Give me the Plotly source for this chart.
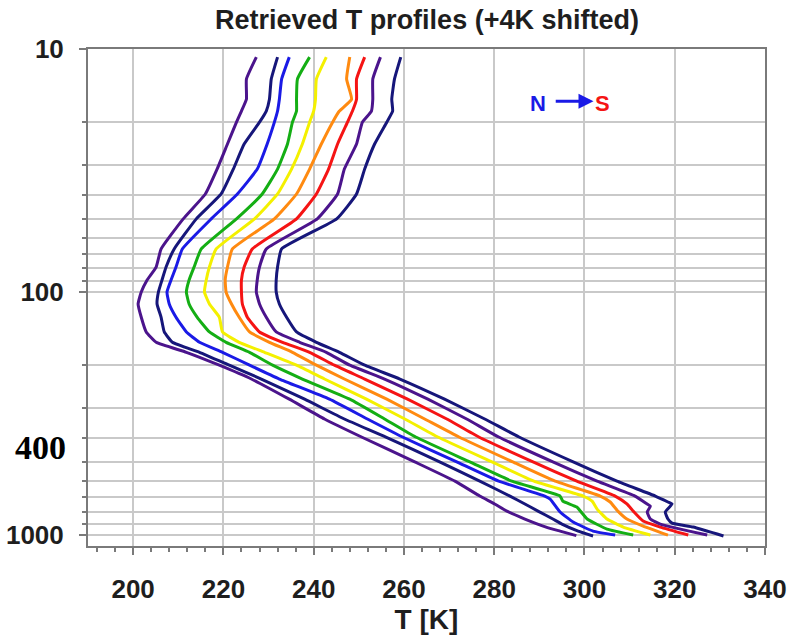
import plotly.graph_objects as go

# ---------------- data ----------------
# common pressure levels (hPa) for the upper part of every profile
P_UPPER = [10.8, 13.3, 16.1, 18, 20, 24.6, 31.2, 39.5, 50, 66.5, 78.9, 89.2, 100,
           112, 127, 146, 161, 177, 200, 228, 276, 333, 395, 500, 600, 691]

# profile 1 (northernmost, purple)
T1 = [227.3, 225.1, 225.1, 224.0, 222.9, 220.9, 218.6, 216.0, 211.1, 206.2, 205.1, 203.1, 201.8,
      201.1, 201.8, 202.9, 205.1, 211.8, 219.1, 226.2, 234.6, 242.4, 250.6, 262.4, 271.3, 276.8]
P1_LOW = [745, 797, 859, 927, 963, 1005]
T1_LOW = [280.1, 282.8, 286.8, 291.5, 294.6, 298.2]

# profile 2 (navy)
T2 = [232.0, 230.6, 230.2, 229.5, 228.0, 224.6, 222.2, 219.5, 214.0, 209.1, 207.3, 206.4, 205.6,
      205.3, 206.2, 206.9, 208.7, 214.7, 221.3, 228.4, 238.0, 246.8, 256.0, 267.9, 276.8, 283.5]
P2_LOW = [745, 797, 859, 901, 963, 1009]
T2_LOW = [286.8, 289.7, 293.0, 295.0, 298.6, 301.9]

# profile 3 (blue)
T3 = [234.6, 232.9, 232.4, 232.0, 231.3, 229.7, 227.5, 223.1, 217.3, 210.9, 209.5, 208.4, 207.5,
      208.0, 209.5, 211.8, 214.7, 219.8, 225.8, 232.4, 243.5, 251.9, 259.7, 271.7, 281.0, 291.2]
P3_LOW = [711, 804, 884, 963, 1000]
T3_LOW = [292.4, 294.6, 297.5, 301.9, 306.8]

# profile 4 (green)
T4 = [239.1, 236.4, 236.2, 236.2, 235.3, 234.2, 232.0, 228.6, 222.9, 215.1, 213.5, 212.4, 211.8,
      212.4, 214.2, 216.9, 220.6, 225.8, 230.9, 237.5, 248.0, 255.7, 262.6, 274.6, 283.9, 294.6]
P4_LOW = [725, 767, 859, 945, 1000]
T4_LOW = [295.2, 298.3, 300.6, 305.0, 310.8]

# profile 5 (yellow)
T5 = [242.8, 240.6, 240.4, 240.0, 239.1, 237.5, 235.1, 232.0, 226.9, 218.4, 216.9, 216.2, 215.8,
      216.9, 219.1, 219.8, 223.5, 229.1, 236.2, 242.4, 251.7, 260.2, 267.5, 279.5, 288.8, 299.7]
P5_LOW = [725, 782, 859, 927, 1000]
T5_LOW = [301.7, 302.8, 305.0, 308.6, 314.6]

# profile 6 (orange)
T6 = [248.0, 247.3, 248.4, 245.7, 244.2, 241.7, 239.1, 236.2, 231.3, 222.0, 220.9, 220.4, 220.6,
      221.8, 223.5, 225.8, 230.2, 235.3, 240.6, 246.8, 256.2, 264.6, 272.2, 284.1, 293.5, 303.5]
P6_LOW = [731, 797, 859, 918, 1000]
T6_LOW = [305.7, 307.4, 309.4, 313.0, 318.5]

# profile 7 (red)
T7 = [251.3, 249.5, 249.5, 248.6, 247.5, 245.3, 243.3, 240.6, 236.2, 226.4, 224.6, 224.0, 224.0,
      224.2, 225.3, 228.0, 233.1, 239.1, 244.6, 251.3, 260.8, 269.5, 276.6, 288.6, 298.3, 306.8]
P7_LOW = [745, 797, 876, 927, 1000]
T7_LOW = [309.4, 310.8, 313.0, 316.8, 323.0]

# profile 8 (purple)
T8 = [254.8, 253.1, 253.1, 252.8, 250.8, 249.5, 246.8, 245.3, 240.8, 229.5, 228.0, 227.5, 227.3,
      228.0, 229.5, 231.7, 236.9, 242.8, 248.0, 255.7, 265.3, 273.9, 281.0, 293.0, 302.8, 311.2]
P8_LOW = [745, 760, 804, 859, 901, 1000]
T8_LOW = [313.9, 314.6, 313.9, 314.6, 316.8, 327.2]

# profile 9 (southernmost, navy)
T9 = [259.3, 257.9, 257.3, 257.5, 256.2, 253.5, 251.3, 249.5, 245.1, 232.9, 232.0, 231.7, 231.7,
      232.4, 234.0, 236.2, 240.6, 245.7, 251.3, 259.1, 269.0, 277.9, 285.5, 297.5, 307.2, 315.7]
P9_LOW = [731, 745, 804, 859, 893, 927, 1009]
T9_LOW = [318.5, 319.4, 317.9, 318.5, 319.4, 324.1, 330.8]

PROFILES = [
    ("Profile 1", T1, P1_LOW, T1_LOW, "#4b148c"),
    ("Profile 2", T2, P2_LOW, T2_LOW, "#16167a"),
    ("Profile 3", T3, P3_LOW, T3_LOW, "#1a1ae6"),
    ("Profile 4", T4, P4_LOW, T4_LOW, "#14ae14"),
    ("Profile 5", T5, P5_LOW, T5_LOW, "#f4f000"),
    ("Profile 6", T6, P6_LOW, T6_LOW, "#ff8a10"),
    ("Profile 7", T7, P7_LOW, T7_LOW, "#f51414"),
    ("Profile 8", T8, P8_LOW, T8_LOW, "#4b148c"),
    ("Profile 9", T9, P9_LOW, T9_LOW, "#16167a"),
]

X_TICKS = [200, 220, 240, 260, 280, 300, 320, 340]
Y_TICKS = [10, 100, 1000]
Y_MINOR = [20, 30, 40, 50, 60, 70, 80, 90, 200, 300, 400, 500, 600, 700, 800, 900]

TITLE = "Retrieved T profiles (+4K shifted)"
X_TITLE = "T [K]"

# ---------------- figure ----------------
SANS = "Liberation Sans, Arial, Helvetica, sans-serif"
fig = go.Figure()
for name, tu, pl, tl, col in PROFILES:
    fig.add_trace(go.Scatter(
        x=tu + tl, y=P_UPPER + pl, mode="lines", name=name,
        line=dict(color=col, width=3, shape="spline", smoothing=0.4), showlegend=False))

GRID = "#c9c9c9"
AXIS = "#7a7a7a"

fig.update_layout(
    width=791, height=637,
    margin=dict(l=88, r=26, t=49, b=91, pad=0, autoexpand=False),
    paper_bgcolor="white", plot_bgcolor="white",
    title=dict(text=TITLE, x=427 / 791, xanchor="center", y=1 - 20 / 637, yanchor="middle",
               font=dict(family=SANS, size=27, color="#1e1e1e", weight="bold")),
    xaxis=dict(
        range=[190, 340], tickmode="array", tickvals=X_TICKS,
        ticktext=[str(v) for v in X_TICKS], automargin=False,
        showgrid=True, gridcolor=GRID, gridwidth=1.5,
        showline=True, linecolor=AXIS, linewidth=2, mirror=True,
        ticks="outside", ticklen=7, tickwidth=1.5, tickcolor=AXIS,
        ticklabelstandoff=12,
        tickfont=dict(family=SANS, size=26, color="#1e1e1e", weight="bold"),
        minor=dict(dtick=4, tick0=0, ticks="outside", ticklen=4, tickwidth=1.5,
                   tickcolor=AXIS, showgrid=False),
        title=dict(text=X_TITLE, standoff=6,
                   font=dict(family=SANS, size=28, color="#1e1e1e", weight="bold")),
        zeroline=False,
    ),
    yaxis=dict(
        type="log", range=[3.045, 1.0], automargin=False,
        tickmode="array", tickvals=Y_TICKS, ticktext=[str(v) for v in Y_TICKS],
        showgrid=True, gridcolor=GRID, gridwidth=1.5,
        showline=True, linecolor=AXIS, linewidth=2, mirror=True,
        ticks="outside", ticklen=7, tickwidth=1.5, tickcolor=AXIS,
        ticklabelstandoff=10,
        tickfont=dict(family=SANS, size=26, color="#1e1e1e", weight="bold"),
        minor=dict(tickmode="array", tickvals=Y_MINOR, ticks="outside", ticklen=4,
                   tickwidth=1.5, tickcolor=AXIS, showgrid=True, gridcolor=GRID,
                   gridwidth=1.5),
        zeroline=False,
    ),
)

# "400" label overlaid at the left (serif, bold)
fig.add_annotation(text="400", xref="paper", yref="y", x=-48 / 677, y=2.64,
                   xanchor="center", yanchor="middle", showarrow=False,
                   font=dict(family="Liberation Serif, Times New Roman, serif", size=34,
                             color="black", weight="bold"))

# N -> S direction marker
fig.add_annotation(text="N", x=289.7, y=1.225, xref="x", yref="y", showarrow=False,
                   font=dict(family=SANS, size=22, color="#1a1ae6", weight="bold"))
fig.add_annotation(text="S", x=303.9, y=1.225, xref="x", yref="y", showarrow=False,
                   font=dict(family=SANS, size=22, color="#f51414", weight="bold"))
fig.add_annotation(text="", x=302.0, y=1.215, ax=293.3, ay=1.215, xref="x", yref="y",
                   axref="x", ayref="y", showarrow=True, arrowhead=2, arrowsize=1,
                   arrowwidth=3, arrowcolor="#1a1ae6")

fig.write_html("out.html")
